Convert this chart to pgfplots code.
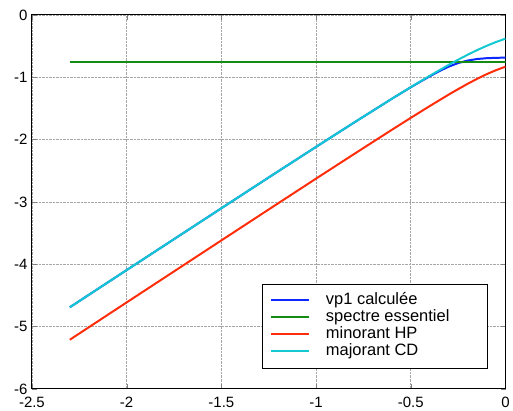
\documentclass[border=0pt]{standalone}
\usepackage{pgfplots}
\pgfplotsset{compat=1.18}
\usepackage{fontspec}
\setmainfont{Liberation Sans}
\definecolor{mblue}{RGB}{10,40,255}
\definecolor{mgreen}{RGB}{20,140,20}
\definecolor{mred}{RGB}{255,45,10}
\definecolor{mcyan}{RGB}{20,200,210}
\begin{document}
\begin{tikzpicture}
\begin{axis}[
    name=ax,
    scale only axis,
    width=475pt, height=375pt,
    xmin=-2.5, xmax=0, ymin=-6, ymax=0,
    xtick={-2.5,-2,...,0}, ytick={-6,-5,...,0},
    tick align=inside, tick pos=both,
    axis line style={line width=1pt},
    major tick length=5pt,
    grid=major,
    grid style={densely dotted, gray!70, line width=0.8pt},
    ticklabel style={font=\fontsize{15}{17}\selectfont},
    /pgf/number format/assume math mode=true,
    xticklabel style={yshift=-4.5pt},
    yticklabel style={xshift=-1pt},
    every axis plot/.append style={line width=2pt},
    legend style={at={(0.962,0.056)}, anchor=south east,
        font=\fontsize{16.5}{18}\selectfont,
        inner xsep=8pt, inner ysep=8pt, row sep=0pt,
        nodes={inner ysep=0.5pt, text height=12pt, text depth=4pt},
        cells={anchor=west}},
    legend image code/.code={\draw[#1, line width=2pt] (0pt,0pt) -- (38pt,0pt); \path (52pt,0pt);},
]
\addplot[mblue] coordinates {
    (-2.3,-4.691) (-2.0,-4.094) (-1.5,-3.102) (-1.2,-2.509) (-1.0,-2.117)
    (-0.8,-1.728) (-0.6,-1.345) (-0.5,-1.160) (-0.45,-1.072) (-0.4,-0.985)
    (-0.35,-0.902) (-0.3,-0.830) (-0.25,-0.772) (-0.2,-0.732) (-0.15,-0.707)
    (-0.1,-0.694) (-0.05,-0.688) (0,-0.685)
};
\addplot[mgreen] coordinates {
    (-2.3,-0.75) (0,-0.75)
};
\addplot[mred] coordinates {
    (-2.3,-5.212) (-2.0,-4.613) (-1.5,-3.618) (-1.2,-3.022) (-1.0,-2.626)
    (-0.8,-2.233) (-0.6,-1.843) (-0.5,-1.651) (-0.4,-1.462) (-0.3,-1.278)
    (-0.25,-1.190) (-0.2,-1.105) (-0.15,-1.025) (-0.1,-0.951) (-0.05,-0.886)
    (0,-0.830)
};
\addplot[mcyan] coordinates {
    (-2.3,-4.691) (-2.0,-4.094) (-1.5,-3.102) (-1.2,-2.509) (-1.0,-2.117)
    (-0.8,-1.728) (-0.6,-1.345) (-0.5,-1.158) (-0.4,-0.976) (-0.3,-0.801)
    (-0.25,-0.718) (-0.2,-0.639) (-0.15,-0.564) (-0.1,-0.496) (-0.05,-0.434)
    (0,-0.380)
};
\legend{vp1 calculée, spectre essentiel\hspace*{28pt}, minorant HP, majorant CD}
\end{axis}
\path ([xshift=-32pt,yshift=-22pt]ax.south west) rectangle ([xshift=6pt,yshift=15pt]ax.north east);
\end{tikzpicture}
\end{document}
